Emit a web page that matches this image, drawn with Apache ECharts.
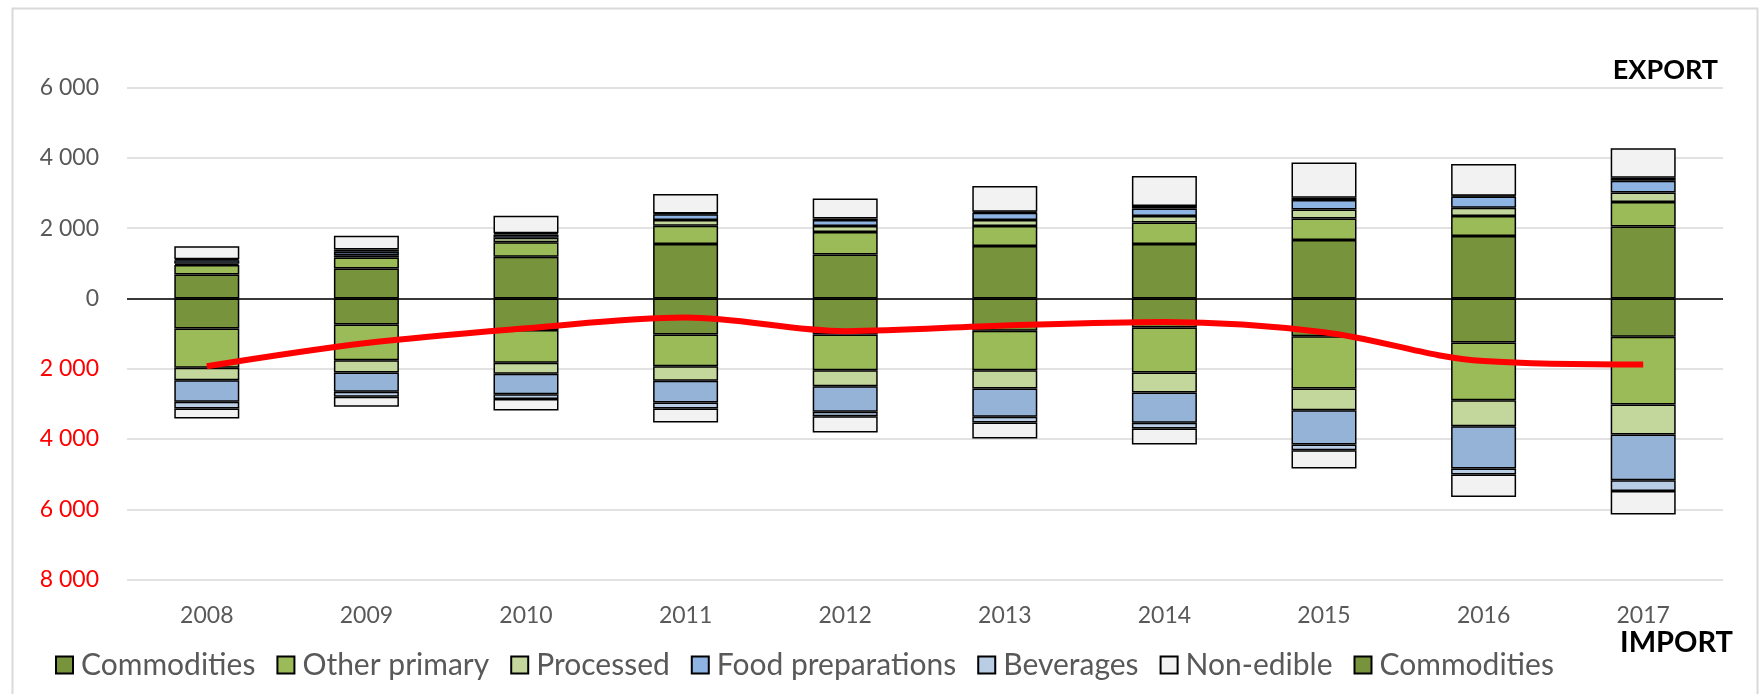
<!DOCTYPE html>
<html>
<head>
<meta charset="utf-8">
<script src="https://cdn.jsdelivr.net/npm/echarts@6/dist/echarts.min.js"></script>
<style>
html,body{margin:0;padding:0;background:#fff;}
#chart{width:1761px;height:694px;}
</style>
</head>
<body>
<div id="chart"></div>
<script>
var years = ['2008','2009','2010','2011','2012','2013','2014','2015','2016','2017'];
var seriesNames = ['Commodities','Other primary','Processed','Food preparations','Beverages','Non-edible'];

// Export values (positive side)
var expCommodities = [683, 854, 1190, 1547, 1253, 1490, 1547, 1660, 1775, 2050];
var expOtherPrimary = [266, 313, 408, 522, 635, 569, 617, 617, 569, 693];
var expProcessed = [40, 60, 130, 160, 171, 171, 180, 257, 237, 275];
var expFoodPrep = [100, 100, 95, 170, 171, 209, 218, 265, 322, 332];
var expBeverages = [30, 68, 30, 20, 48, 28, 67, 67, 20, 85];
var expNonEdible = [370, 389, 500, 550, 569, 731, 854, 1006, 901, 836];

// Import values (drawn below zero)
var impCommodities = [854, 740, 901, 1025, 1025, 920, 825, 1072, 1253, 1091];
var impOtherPrimary = [1120, 1015, 931, 901, 1015, 1120, 1282, 1490, 1641, 1927];
var impProcessed = [351, 351, 313, 417, 456, 522, 569, 617, 741, 854];
var impFoodPrep = [617, 550, 579, 617, 731, 807, 864, 977, 1205, 1300];
var impBeverages = [190, 142, 136, 171, 123, 161, 161, 162, 171, 304];
var impNonEdible = [285, 285, 330, 399, 465, 456, 456, 522, 636, 673];

// Trade balance (red line)
var balance = [-1930, -1270, -850, -540, -930, -770, -670, -960, -1780, -1880];

var yTicks = [-8000, -6000, -4000, -2000, 0, 2000, 4000, 6000];

var expColors = ['#77933C','#9BBB59','#C3D69B','#8EB4E3','#B9CDE5','#F2F2F2'];
var impColors = ['#77933C','#9BBB59','#C3D69B','#95B3D7','#B9CDE5','#F2F2F2'];

var expData = [expCommodities, expOtherPrimary, expProcessed, expFoodPrep, expBeverages, expNonEdible];
var impData = [impCommodities, impOtherPrimary, impProcessed, impFoodPrep, impBeverages, impNonEdible];

var FONT = 'Lato, "Open Sans", sans-serif';

function fmt(v){
  var a = Math.abs(v);
  var s = String(a);
  if (a >= 1000) s = s.slice(0, s.length-3) + ' ' + s.slice(s.length-3);
  return s;
}

var series = [];
for (var i = 0; i < 6; i++) {
  series.push({
    name: seriesNames[i],
    type: 'bar',
    stack: 'all',
    barWidth: 65,
    data: expData[i],
    itemStyle: {color: expColors[i], borderColor: '#000', borderWidth: 1.5},
    emphasis: {disabled: true}
  });
}
for (var j = 0; j < 6; j++) {
  series.push({
    name: seriesNames[j] + ' (import)',
    type: 'bar',
    stack: 'all',
    barWidth: 65,
    data: impData[j].map(function(v){return -v;}),
    itemStyle: {color: impColors[j], borderColor: '#000', borderWidth: 1.5},
    emphasis: {disabled: true}
  });
}
series.push({
  name: 'Balance',
  type: 'line',
  data: balance,
  smooth: 0.35,
  symbol: 'none',
  z: 10,
  lineStyle: {color: '#FF0000', width: 6},
  markLine: {
    silent: true,
    symbol: 'none',
    label: {show: false},
    lineStyle: {color: '#000', width: 1.5, type: 'solid'},
    data: [{yAxis: 0}],
    z: 5
  }
});

var chart = echarts.init(document.getElementById('chart'), null, {renderer: 'canvas'});
chart.setOption({
  animation: false,
  backgroundColor: '#fff',
  grid: {left: 127, right: 38, top: 87.6, bottom: 114.4, containLabel: false},
  legend: {
    data: seriesNames.concat(['Commodities (import)']),
    formatter: function(n){ return n.replace(' (import)',''); },
    left: 50,
    top: 645,
    icon: 'rect',
    itemWidth: 17,
    itemHeight: 17,
    itemGap: 21,
    textStyle: {fontFamily: FONT, fontSize: 30, color: '#595959', padding: [0, 0, 0, 3]}
  },
  xAxis: {
    type: 'category',
    data: years,
    axisLine: {show: false},
    axisTick: {show: false},
    axisLabel: {fontFamily: FONT, fontSize: 23, color: '#595959', margin: 24}
  },
  yAxis: {
    type: 'value',
    min: -8000,
    max: 6000,
    interval: 2000,
    axisLine: {show: false},
    axisTick: {show: false},
    splitLine: {lineStyle: {color: '#D9D9D9', width: 1.5}},
    axisLabel: {
      margin: 28,
      formatter: function(v){ return v < 0 ? '{r|' + fmt(v) + '}' : '{g|' + fmt(v) + '}'; },
      rich: {
        r: {fontFamily: FONT, fontSize: 23, color: '#FF0000'},
        g: {fontFamily: FONT, fontSize: 23, color: '#595959'}
      }
    }
  },
  graphic: [
    {type: 'rect', left: 10, top: 6, silent: true, z: -10,
     shape: {x: 0, y: 0, width: 1745, height: 690},
     style: {fill: 'none', stroke: '#D9D9D9', lineWidth: 2}},
    {type: 'text', right: 43, top: 57,
     style: {text: 'EXPORT', font: 'bold 27px ' + FONT, fill: '#000'}},
    {type: 'text', right: 28, top: 628,
     style: {text: 'IMPORT', font: 'bold 29px ' + FONT, fill: '#000'}}
  ],
  series: series
});
</script>
</body>
</html>
